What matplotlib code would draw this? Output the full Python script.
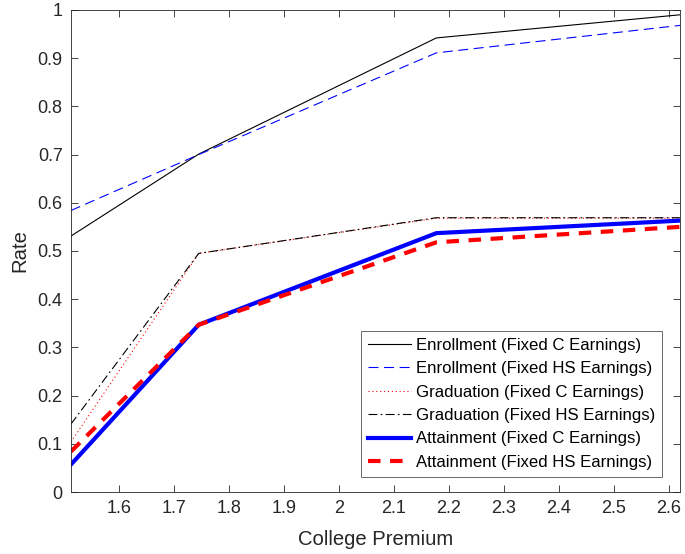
import matplotlib
matplotlib.use('agg')
from matplotlib import pyplot as plt

plt.rcParams['font.family'] = ['Liberation Sans', 'DejaVu Sans']

premium = [1.5127, 1.745, 2.177, 2.62]

enroll_c = [0.531, 0.701, 0.942, 0.990]
enroll_hs = [0.584, 0.700, 0.911, 0.968]
grad_c = [0.104, 0.495, 0.568, 0.568]
grad_hs = [0.141, 0.495, 0.569, 0.569]
attain_c = [0.057, 0.347, 0.537, 0.563]
attain_hs = [0.084, 0.347, 0.518, 0.550]

labels = [
    'Enrollment (Fixed C Earnings)',
    'Enrollment (Fixed HS Earnings)',
    'Graduation (Fixed C Earnings)',
    'Graduation (Fixed HS Earnings)',
    'Attainment (Fixed C Earnings)',
    'Attainment (Fixed HS Earnings)',
]

axis_color = '#262626'

fig = plt.figure(figsize=(6.85, 5.54), dpi=100)
ax = fig.add_axes([0.1036, 0.1119, 0.8891, 0.8701])

ax.plot(premium, enroll_c, color='black', linewidth=0.8, label=labels[0])
ax.plot(premium, enroll_hs, color='blue', linewidth=0.8, dashes=(9, 5), label=labels[1])
ax.plot(premium, grad_c, color='red', linewidth=0.8, linestyle=(0, (1, 2.5)), label=labels[2])
ax.plot(premium, grad_hs, color='black', linewidth=0.8, dashes=(8, 3, 1.5, 3), label=labels[3])
ax.plot(premium, attain_c, color='blue', linewidth=3, label=labels[4])
ax.plot(premium, attain_hs, color='red', linewidth=3, dashes=(3, 2.3), label=labels[5])

ax.set_xlim(premium[0], premium[-1])
ax.set_ylim(0, 1)
ax.set_xticks([1.6, 1.7, 1.8, 1.9, 2.0, 2.1, 2.2, 2.3, 2.4, 2.5, 2.6])
ax.set_xticklabels(['1.6', '1.7', '1.8', '1.9', '2', '2.1', '2.2', '2.3', '2.4', '2.5', '2.6'])
ax.set_yticks([0, 0.1, 0.2, 0.3, 0.4, 0.5, 0.6, 0.7, 0.8, 0.9, 1])
ax.set_yticklabels(['0', '0.1', '0.2', '0.3', '0.4', '0.5', '0.6', '0.7', '0.8', '0.9', '1'])
ax.tick_params(direction='in', top=True, right=True, length=5, width=0.6,
               colors=axis_color, labelsize=13, pad=6)
for spine in ax.spines.values():
    spine.set_color(axis_color)
    spine.set_linewidth(0.6)

ax.set_xlabel('College Premium', fontsize=14.6, color=axis_color, labelpad=9)
ax.set_ylabel('Rate', fontsize=14.6, color=axis_color, labelpad=6)

leg = ax.legend(loc='lower right', bbox_to_anchor=(0.9704, 0.032), fontsize=12.1,
                frameon=True, fancybox=False, borderpad=0.4, labelspacing=0.5,
                handlelength=2.55, handletextpad=0.3, borderaxespad=0)
leg.get_frame().set_edgecolor(axis_color)
leg.get_frame().set_linewidth(0.6)

plt.savefig('out.png', dpi=100)
